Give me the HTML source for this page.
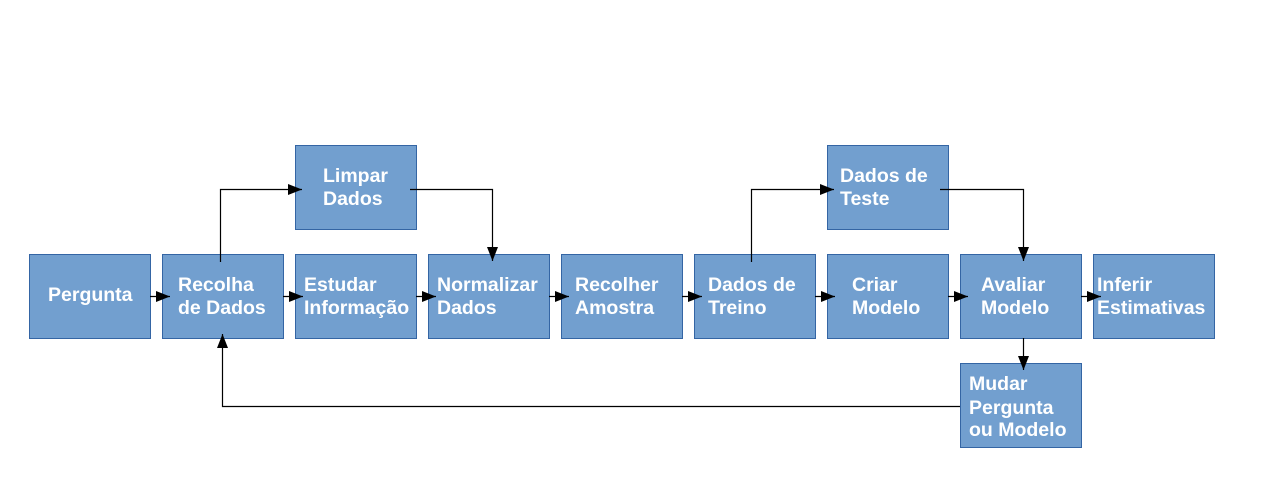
<!DOCTYPE html>
<html><head><meta charset="utf-8"><style>html,body{margin:0;padding:0;background:#fff}</style></head>
<body>
<svg width="1268" height="492" xmlns="http://www.w3.org/2000/svg" style="display:block">
<defs><marker id="a" markerWidth="14" markerHeight="11" refX="14" refY="5.5" orient="auto" markerUnits="userSpaceOnUse"><path d="M0,0L14,5.5L0,11z" fill="#000"/></marker></defs>
<g fill="#729fcf" stroke="#3465a4" stroke-width="1">
<rect x="29.5" y="254.5" width="121" height="84"/>
<rect x="162.5" y="254.5" width="121" height="84"/>
<rect x="295.5" y="254.5" width="121" height="84"/>
<rect x="428.5" y="254.5" width="121" height="84"/>
<rect x="561.5" y="254.5" width="121" height="84"/>
<rect x="694.5" y="254.5" width="121" height="84"/>
<rect x="827.5" y="254.5" width="121" height="84"/>
<rect x="960.5" y="254.5" width="121" height="84"/>
<rect x="1093.5" y="254.5" width="121" height="84"/>
<rect x="295.5" y="145.5" width="121" height="84"/>
<rect x="827.5" y="145.5" width="121" height="84"/>
<rect x="960.5" y="363.5" width="121" height="84"/>
</g>
<g stroke="#000" stroke-width="1.2" fill="none" marker-end="url(#a)">
<path d="M150 296.5H170"/>
<path d="M283 296.5H303"/>
<path d="M416 296.5H436"/>
<path d="M549 296.5H569"/>
<path d="M682 296.5H702"/>
<path d="M815 296.5H835"/>
<path d="M948 296.5H968"/>
<path d="M1081 296.5H1101"/>
<path d="M220.5 262V189.5H302"/>
<path d="M410 189.5H492.5V261"/>
<path d="M751.5 262V189.5H834"/>
<path d="M940 189.5H1023.5V261"/>
<path d="M1023.5 338V370"/>
<path d="M960 406.5H222.5V334"/>
</g>
<g font-family="Liberation Sans, sans-serif" font-weight="bold" font-size="19.5" fill="#fff">
<text x="48" y="301">Pergunta</text>
<text x="178" y="291">Recolha</text><text x="178" y="314">de Dados</text>
<text x="304" y="291">Estudar</text><text x="304" y="314">Informação</text>
<text x="437" y="291">Normalizar</text><text x="437" y="314">Dados</text>
<text x="575" y="291">Recolher</text><text x="575" y="314">Amostra</text>
<text x="708" y="291">Dados de</text><text x="708" y="314">Treino</text>
<text x="852" y="291">Criar</text><text x="852" y="314">Modelo</text>
<text x="981" y="291">Avaliar</text><text x="981" y="314">Modelo</text>
<text x="1097" y="291">Inferir</text><text x="1097" y="314">Estimativas</text>
<text x="323" y="182">Limpar</text><text x="323" y="205">Dados</text>
<text x="840" y="182">Dados de</text><text x="840" y="205">Teste</text>
<text x="969" y="390">Mudar</text><text x="969" y="414">Pergunta</text><text x="969" y="436">ou Modelo</text>
</g>
</svg>
</body></html>
